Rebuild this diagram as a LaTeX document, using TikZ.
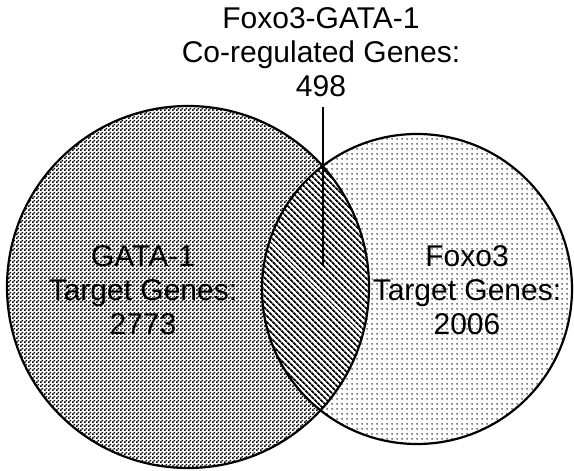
\documentclass[tikz,border=0pt]{standalone}
\usepackage{fontspec}
\setmainfont{Liberation Sans}
\usetikzlibrary{patterns.meta}

% fine checkerboard for the GATA-1 set
\tikzdeclarepattern{
  name=chk,
  type=uncolored,
  bottom left={(0pt,0pt)},
  top right={(4pt,4pt)},
  tile size={(4pt,4pt)},
  code={
    \pgfpathrectangle{\pgfpointorigin}{\pgfpoint{2pt}{2pt}}
    \pgfpathrectangle{\pgfpoint{2pt}{2pt}}{\pgfpoint{2pt}{2pt}}
    \pgfusepath{fill}
  }
}
% sparse dots for the Foxo3 set
\tikzdeclarepattern{
  name=sparsedots,
  type=uncolored,
  bottom left={(0pt,0pt)},
  top right={(5pt,5pt)},
  tile size={(5pt,5pt)},
  code={
    \pgfpathcircle{\pgfpoint{2.5pt}{2.5pt}}{0.95pt}
    \pgfusepath{fill}
  }
}
% diagonal stripes for the overlap
\tikzdeclarepattern{
  name=stripes,
  type=uncolored,
  bottom left={(0pt,0pt)},
  top right={(4pt,4pt)},
  tile size={(4pt,4pt)},
  tile transformation={rotate=-45},
  code={
    \pgfpathrectangle{\pgfpointorigin}{\pgfpoint{4pt}{1.9pt}}
    \pgfusepath{fill}
  }
}

\tikzset{
  setborder/.style={draw=black, line width=2.2pt},
  setlabel/.style={align=center, inner sep=0pt, font=\fontsize{30}{34}\selectfont},
  leader/.style={draw=black, line width=1.8pt}
}

\begin{document}
\begin{tikzpicture}[x=1pt, y=-1pt]
  \useasboundingbox (0,0) rectangle (574,471);

  \coordinate (lc) at (188,287);
  \coordinate (rc) at (417,289);

  % the two sets
  \fill[pattern=chk] (lc) circle[radius=181];
  \fill[pattern=sparsedots] (rc) circle[radius=155];

  % the overlap
  \begin{scope}
    \clip (lc) circle[radius=181];
    \fill[white] (rc) circle[radius=155];
    \fill[pattern=stripes] (rc) circle[radius=155];
  \end{scope}

  \draw[setborder] (lc) circle[radius=181];
  \draw[setborder] (rc) circle[radius=155];

  % labels
  \node[setlabel] (gata) at (143,290) {GATA-1\\Target Genes:\\2773};
  \node[setlabel] (foxo) at (467,290) {Foxo3\\Target Genes:\\2006};
  \node[setlabel] (common) at (321,52) {Foxo3-GATA-1\\Co-regulated Genes:\\498};

  % leader from the overlap label into the overlap
  \coordinate (leadtop) at (323,107);
  \coordinate (leadend) at (323,266);
  \draw[leader] (leadtop) -- (leadend);
\end{tikzpicture}
\end{document}
